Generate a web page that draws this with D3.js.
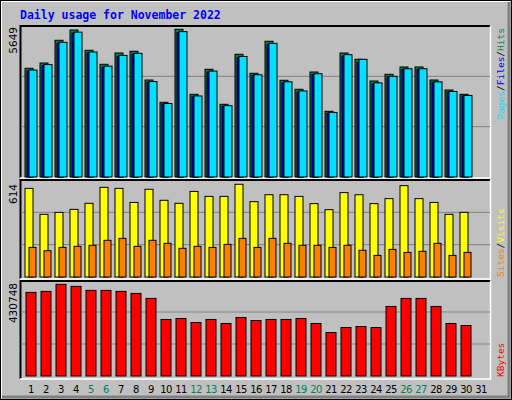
<!DOCTYPE html>
<html><head><meta charset="utf-8">
<script src="https://cdn.jsdelivr.net/npm/d3@7"></script>
<style>body{margin:0;background:#fff}</style>
</head><body><div id="chart"></div>
<script>
const days = d3.range(1, 32);
const weekend = [5, 6, 12, 13, 19, 20, 26, 27];
const hits = [4158,4360,5229,5623,4846,4311,4743,4808,3710,2857,5649,3163,4120,2781,4693,3967,5191,3699,3355,4016,2513,4743,4502,3672,3928,4208,4208,3710,3328,3163];
const files = [4060,4260,5110,5500,4740,4200,4600,4700,3620,2790,5520,3060,4010,2700,4560,3880,5060,3600,3250,3920,2440,4620,4390,3560,3830,4110,4110,3620,3240,3100];
const pages = [4090,4300,5150,5540,4780,4240,4650,4730,3650,2810,5560,3100,4050,2730,4610,3910,5110,3640,3290,3950,2470,4680,4500,3600,3850,4140,4140,3640,3270,3120];
const visits = [587,415,428,448,488,594,587,494,581,508,488,567,534,534,614,499,545,545,534,486,446,559,545,486,519,605,519,494,415,428];
const sites = [196,174,196,203,210,243,256,203,243,223,190,203,196,216,256,196,256,223,210,210,196,210,177,143,183,163,170,223,143,163];
const kbytes = [392750,397450,430748,421000,402200,402200,397450,388000,364460,265500,270200,251360,265500,246650,274900,260770,265500,265500,270200,246650,204200,227800,232500,227800,326760,364460,364460,326760,246650,237200];

const W = 512, H = 400;
const svg = d3.select('#chart').append('svg').attr('width', W).attr('height', H)
  .style('font-family', 'DejaVu Sans');

// background and bevel
svg.append('rect').attr('width', W).attr('height', H).attr('fill', '#c0c0c0');
svg.append('rect').attr('x', 0.5).attr('y', 0.5).attr('width', W - 1).attr('height', H - 1)
  .attr('fill', 'none').attr('stroke', '#000');
svg.append('path').attr('d', `M1.5,${H-2}V1.5H${W-2}`).attr('fill', 'none').attr('stroke', '#fff');
svg.append('path').attr('d', `M${W-3},2V${H-3}H2`).attr('fill', 'none').attr('stroke', '#808080').attr('stroke-width', 3);

svg.append('text').attr('x', 20).attr('y', 19).text('Daily usage for November 2022')
  .attr('fill', '#0000ff').attr('font-family', 'DejaVu Sans Mono').attr('font-weight', 'bold').attr('font-size', 11.5);

const x = d3.scaleBand().domain(days).range([20, 485]).paddingInner(0);
const px = d => x(d) + 5;

function frame(y0, y1) {
  svg.append('path').attr('d', `M20.5,${y1}V${y0}H490`).attr('fill', 'none').attr('stroke', '#000').attr('stroke-width', 2);
  svg.append('path').attr('d', `M490.5,${y0}V${y1}H20`).attr('fill', 'none').attr('stroke', '#fff').attr('stroke-width', 1.5);
}
function grid(y) {
  [1, 2].forEach(k => {
    const v = y.domain()[1] * k / 3;
    svg.append('line').attr('x1', 21).attr('x2', 490).attr('y1', y(v)).attr('y2', y(v))
      .attr('stroke', '#808080').attr('stroke-width', 1);
  });
}
function bars(data, y, dx, w, fill) {
  svg.append('g').selectAll('rect').data(data).join('rect')
    .attr('x', (d, i) => px(days[i]) + dx).attr('y', d => y(d))
    .attr('width', w).attr('height', d => y(0) - y(d))
    .attr('fill', fill).attr('stroke', '#000').attr('stroke-width', 1);
}
function leftLabel(text, y) {
  svg.append('text').attr('transform', `translate(17,${y}) rotate(-90)`).attr('text-anchor', 'end')
    .attr('font-size', 10.5).text(text);
}
function rightLabel(parts, y, anchor) {
  const t = svg.append('text').attr('transform', `translate(504,${y}) rotate(-90)`)
    .attr('text-anchor', anchor)
    .attr('font-family', 'DejaVu Sans Mono').attr('font-size', 9.5);
  parts.forEach(([s, c]) => t.append('tspan').attr('fill', c).text(s));
}

// panel 1: hits / files / pages
frame(26, 178);
const y1 = d3.scaleLinear().domain([0, 5649]).range([177, 29.3]);
grid(d3.scaleLinear().domain([0, 5649]).range([177, 26]));
bars(hits, y1, 0, 8, '#00805c');
bars(files, y1, 2, 6, '#0000ff');
bars(pages, y1, 4, 8, '#00e0ff');
leftLabel('5649', 27);
rightLabel([['Pages', '#00e0ff'], ['/', '#000'], ['Files', '#0000ff'], ['/', '#000'], ['Hits', '#00805c']], 28, 'end');

// panel 2: visits / sites
frame(180, 279);
const y2 = d3.scaleLinear().domain([0, 614]).range([277, 184.3]);
grid(d3.scaleLinear().domain([0, 614]).range([277, 180]));
bars(visits, y2, 0, 8, '#ffff00');
bars(sites, y2, 4, 7, '#ff8000');
leftLabel('614', 184);
rightLabel([['Sites', '#ff8000'], ['/', '#000'], ['Visits', '#ffff00']], 277, 'start');

// panel 3: kbytes
frame(281, 379);
const y3 = d3.scaleLinear().domain([0, 430748]).range([376, 284.3]);
grid(d3.scaleLinear().domain([0, 430748]).range([376, 280]));
bars(kbytes, y3, 1, 10, '#ff0000');
leftLabel('430748', 283);
rightLabel([['KBytes', '#ff0000']], 377, 'start');

// day labels
svg.append('g').selectAll('text').data(days).join('text')
  .attr('x', d => px(d) + 6).attr('y', 393).attr('text-anchor', 'middle')
  .attr('font-size', 10).attr('letter-spacing', -0.5)
  .attr('fill', d => weekend.includes(d) ? '#00805c' : '#000')
  .text(d => d);
</script></body></html>
